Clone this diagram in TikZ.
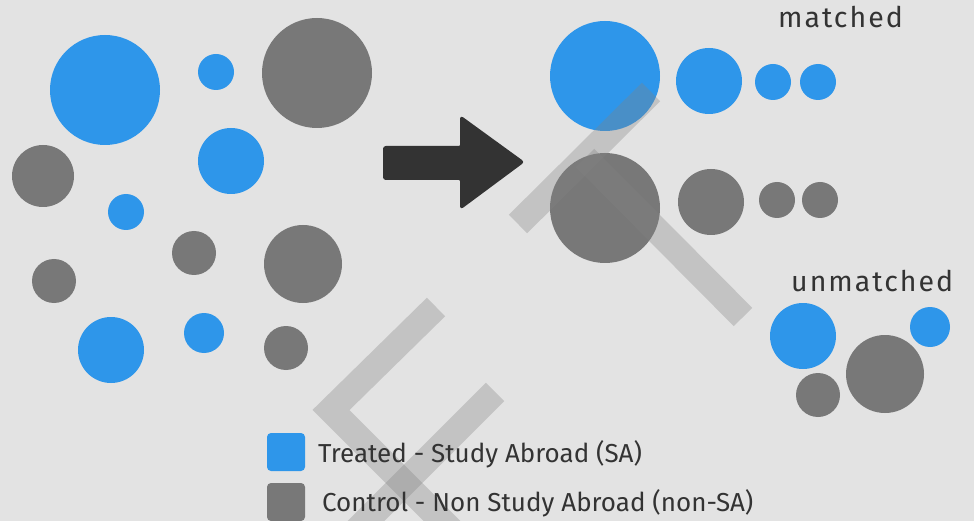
\documentclass[tikz,border=0pt]{standalone}
\usepackage{fontspec}
\setmainfont{Fira Sans}
\newfontfamily\spacedfont[LetterSpace=7]{Fira Sans}
\definecolor{sablue}{HTML}{2E96EA}
\definecolor{nonsagray}{HTML}{787878}
\definecolor{bggray}{HTML}{E3E3E3}
\definecolor{inkgray}{HTML}{333333}
\definecolor{wmgray}{HTML}{828282}
\begin{document}
\begin{tikzpicture}[x=1pt,y=-1pt,
    sa/.style={circle,fill=sablue,inner sep=0pt,minimum size=#1},
    nonsa/.style={circle,fill=nonsagray,inner sep=0pt,minimum size=#1},
    lbl/.style={text=inkgray,font=\fontsize{28.5}{33}\spacedfont,inner sep=0pt},
    key/.style={text=inkgray,font=\fontsize{26}{31}\selectfont,inner sep=0pt},
    wm/.style={draw=wmgray,line width=26pt,opacity=.33,line join=miter}]
    \fill[bggray](0,0)rectangle(974,521);
    \useasboundingbox(0,0)rectangle(974,521);
    \node[sa=110pt](t1)at(105,90){};
    \node[sa=36pt](t2)at(216,72){};
    \node[nonsa=110pt](c1)at(317,73){};
    \node[sa=66pt](t3)at(231,161){};
    \node[nonsa=62pt](c2)at(43,176){};
    \node[sa=36pt](t4)at(126,212){};
    \node[nonsa=44pt](c3)at(194,253){};
    \node[nonsa=78pt](c4)at(303,264){};
    \node[nonsa=44pt](c5)at(54,281){};
    \node[sa=66pt](t5)at(111,350){};
    \node[sa=40pt](t6)at(204,333){};
    \node[nonsa=44pt](c6)at(286,348){};
    \draw[fill=inkgray,draw=inkgray,line width=2pt,rounded corners=2pt]
        (384,147)--(461,147)--(461,117)--(523,162)--(461,208)--(461,179)--(384,179)--cycle;
    \node[sa=110pt](mt1)at(605,76){};
    \node[sa=66pt](mt2)at(709,81){};
    \node[sa=36pt](mt3)at(773,82){};
    \node[sa=36pt](mt4)at(818,82){};
    \node[nonsa=110pt](mc1)at(605,208){};
    \node[nonsa=66pt](mc2)at(711,202){};
    \node[nonsa=36pt](mc3)at(777,200){};
    \node[nonsa=36pt](mc4)at(820,200){};
    \node[lbl,anchor=base west](matched)at(778,28){matched};
    \node[lbl,anchor=base west](unmatched)at(791,291){unmatched};
    \node[sa=66pt](ut1)at(803,336){};
    \node[sa=40pt](ut2)at(930,327){};
    \node[nonsa=78pt](uc1)at(885,374){};
    \node[nonsa=44pt](uc2)at(818,395){};
    \draw[wm](651,92)--(518,224);
    \draw[wm](585,158)--(743,317);
    \draw[wm](436,307)--(331,410)--(460,539);
    \draw[wm](495,392)--(348,539);
    \node[fill=sablue,rounded corners=4pt,minimum size=38pt,inner sep=0pt](keysa)at(286,452){};
    \node[fill=nonsagray,rounded corners=4pt,minimum size=38pt,inner sep=0pt](keynonsa)at(286,502){};
    \node[key,anchor=base west](txtsa)at(318,462){Treated - Study Abroad (SA)};
    \node[key,anchor=base west](txtnonsa)at(322,511){Control - Non Study Abroad (non-SA)};
\end{tikzpicture}
\end{document}
